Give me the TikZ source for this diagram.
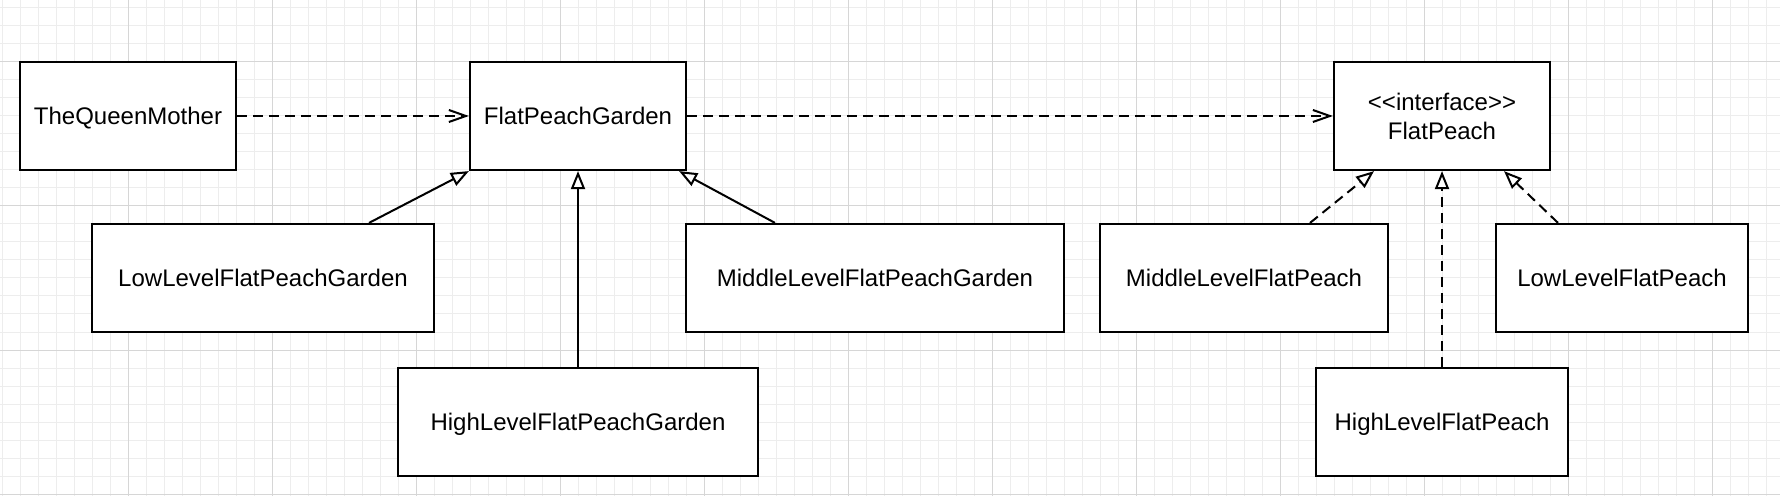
\documentclass[tikz,border=0pt]{standalone}
\usepackage{fontspec}
\setmainfont{Liberation Sans}
\usetikzlibrary{arrows.meta}
\definecolor{gridminor}{HTML}{EDEDED}
\definecolor{gridmajor}{HTML}{D6D6D6}
\begin{document}
\begin{tikzpicture}[x=0.5pt,y=-0.5pt,
  box/.style={draw=black, line width=1.1pt, fill=white, inner sep=0pt, minimum height=54pt, font=\fontsize{12}{14.5}\selectfont, align=center},
  cls/.style={box, text height=8.7pt, text depth=0pt},
  dep/.style={line width=1pt, dash pattern=on 5pt off 3pt, -{Straight Barb[length=8.5pt,width=6pt]}},
  gen/.style={line width=1pt, -{Triangle[length=9pt,width=7pt,fill=white]}},
  real/.style={gen, dash pattern=on 5pt off 3pt},
  gminor/.style={draw=gridminor, line width=0.5pt},
  gmajor/.style={draw=gridmajor, line width=0.5pt},
]
\fill[white] (0,0) rectangle (1780,496);
\useasboundingbox (0,0) rectangle (1780,496);
\foreach \i in {0,...,98} \draw[gminor] ({2+18*\i},0) -- ({2+18*\i},496);
\foreach \j in {0,...,27} \draw[gminor] (0,{8+18*\j}) -- (1780,{8+18*\j});
\foreach \i in {0,...,11} \draw[gmajor] ({128+144*\i},0) -- ({128+144*\i},496);
\foreach \j in {0,...,3} \draw[gmajor] (0,{62+144*\j}) -- (1780,{62+144*\j});

\node[cls, minimum width=108pt] (tqm) at (128,116) {TheQueenMother};
\node[cls, minimum width=108pt] (fpg) at (578,116) {FlatPeachGarden};
\node[box, minimum width=108pt] (iface) at (1442,116) {<{}<interface>{}>\\FlatPeach};
\node[cls, minimum width=171pt] (lowg) at (263,278) {LowLevelFlatPeachGarden};
\node[cls, minimum width=189pt] (midg) at (875,278) {MiddleLevelFlatPeachGarden};
\node[cls, minimum width=180pt] (highg) at (578,422) {HighLevelFlatPeachGarden};
\node[cls, minimum width=144pt] (midp) at (1244,278) {MiddleLevelFlatPeach};
\node[cls, minimum width=126pt] (lowp) at (1622,278) {LowLevelFlatPeach};
\node[cls, minimum width=126pt] (highp) at (1442,422) {HighLevelFlatPeach};

\draw[dep] (tqm) -- (fpg);
\draw[dep] (fpg) -- (iface);
\draw[gen] ([xshift=53pt]lowg.north) -- (fpg.south west);
\draw[gen] (highg) -- (fpg);
\draw[gen] ([xshift=-50pt]midg.north) -- ([xshift=-4pt]fpg.south east);
\draw[real] ([xshift=33pt]midp.north) -- ([xshift=-34pt]iface.south);
\draw[real] (highp) -- (iface);
\draw[real] ([xshift=-32pt]lowp.north) -- ([xshift=31pt]iface.south);
\end{tikzpicture}
\end{document}
